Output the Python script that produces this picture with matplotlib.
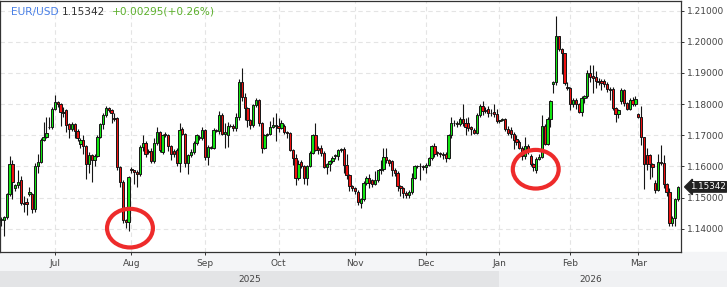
import numpy as np
import pandas as pd
import matplotlib
matplotlib.use("Agg")
import matplotlib.pyplot as plt
from matplotlib.patches import Ellipse
from matplotlib.transforms import blended_transform_factory

# daily EUR/USD candles (Jun 2025 - Mar 2026)
opens = [
    1.1428, 1.1427, 1.1438, 1.1511, 1.1607, 1.1530, 1.1540, 1.1555, 1.1482, 1.1485,
    1.1510, 1.1511, 1.1462, 1.1600, 1.1614, 1.1685, 1.1694, 1.1728, 1.1726, 1.1785,
    1.1806, 1.1801, 1.1772, 1.1780, 1.1737, 1.1721, 1.1737, 1.1715, 1.1672, 1.1684,
    1.1665, 1.1609, 1.1637, 1.1622, 1.1632, 1.1694, 1.1735, 1.1765, 1.1788, 1.1780,
    1.1755, 1.1754, 1.1598, 1.1550, 1.1427, 1.1422, 1.1593, 1.1587, 1.1582, 1.1577,
    1.1662, 1.1675, 1.1649, 1.1649, 1.1617, 1.1675, 1.1710, 1.1646, 1.1705, 1.1700,
    1.1667, 1.1649, 1.1652, 1.1612, 1.1721, 1.1705, 1.1612, 1.1636, 1.1646, 1.1675,
    1.1695, 1.1690, 1.1716, 1.1630, 1.1662, 1.1659, 1.1716, 1.1713, 1.1766, 1.1705,
    1.1700, 1.1729, 1.1731, 1.1724, 1.1760, 1.1870, 1.1822, 1.1788, 1.1748, 1.1734,
    1.1798, 1.1814, 1.1739, 1.1659, 1.1702, 1.1705, 1.1726, 1.1734, 1.1729, 1.1723,
    1.1729, 1.1712, 1.1707, 1.1652, 1.1628, 1.1564, 1.1613, 1.1601, 1.1564, 1.1601,
    1.1644, 1.1700, 1.1660, 1.1659, 1.1643, 1.1598, 1.1607, 1.1617, 1.1632, 1.1634,
    1.1652, 1.1657, 1.1604, 1.1572, 1.1537, 1.1531, 1.1519, 1.1484, 1.1495, 1.1548,
    1.1562, 1.1557, 1.1543, 1.1556, 1.1588, 1.1591, 1.1629, 1.1620, 1.1617, 1.1590,
    1.1579, 1.1538, 1.1532, 1.1516, 1.1508, 1.1518, 1.1564, 1.1601, 1.1600, 1.1601,
    1.1597, 1.1604, 1.1626, 1.1665, 1.1645, 1.1643, 1.1641, 1.1641, 1.1628, 1.1702,
    1.1740, 1.1738, 1.1735, 1.1753, 1.1740, 1.1740, 1.1726, 1.1718, 1.1708, 1.1764,
    1.1794, 1.1780, 1.1783, 1.1772, 1.1773, 1.1769, 1.1745, 1.1748, 1.1752, 1.1721,
    1.1716, 1.1705, 1.1687, 1.1678, 1.1660, 1.1634, 1.1666, 1.1634, 1.1609, 1.1588,
    1.1625, 1.1631, 1.1729, 1.1673, 1.1753, 1.1863, 1.1870, 1.2018, 1.1977, 1.1963,
    1.1855, 1.1850, 1.1800, 1.1814, 1.1801, 1.1775, 1.1820, 1.1825, 1.1900, 1.1890,
    1.1887, 1.1873, 1.1875, 1.1875, 1.1865, 1.1849, 1.1849, 1.1787, 1.1767, 1.1809,
    1.1844, 1.1803, 1.1785, 1.1814, 1.1801, 1.1767, 1.1759, 1.1693, 1.1636, 1.1636,
    1.1607, 1.1548, 1.1523, 1.1614, 1.1612, 1.1543, 1.1518, 1.1418, 1.1436, 1.1497,
]
highs = [
    1.1437, 1.1440, 1.1514, 1.1633, 1.1622, 1.1545, 1.1590, 1.1570, 1.1505, 1.1500,
    1.1535, 1.1515, 1.1610, 1.1641, 1.1690, 1.1742, 1.1760, 1.1760, 1.1790, 1.1830,
    1.1810, 1.1805, 1.1790, 1.1785, 1.1740, 1.1742, 1.1740, 1.1720, 1.1690, 1.1700,
    1.1670, 1.1645, 1.1640, 1.1640, 1.1700, 1.1740, 1.1770, 1.1795, 1.1790, 1.1785,
    1.1770, 1.1760, 1.1600, 1.1555, 1.1430, 1.1570, 1.1598, 1.1590, 1.1590, 1.1670,
    1.1700, 1.1680, 1.1655, 1.1660, 1.1690, 1.1725, 1.1715, 1.1705, 1.1710, 1.1705,
    1.1670, 1.1655, 1.1658, 1.1740, 1.1725, 1.1708, 1.1640, 1.1655, 1.1680, 1.1705,
    1.1700, 1.1725, 1.1720, 1.1668, 1.1665, 1.1722, 1.1720, 1.1778, 1.1770, 1.1740,
    1.1743, 1.1735, 1.1735, 1.1770, 1.1880, 1.1916, 1.1835, 1.1790, 1.1752, 1.1800,
    1.1818, 1.1816, 1.1742, 1.1705, 1.1708, 1.1745, 1.1760, 1.1770, 1.1755, 1.1750,
    1.1735, 1.1715, 1.1710, 1.1655, 1.1640, 1.1622, 1.1620, 1.1603, 1.1605, 1.1650,
    1.1705, 1.1740, 1.1665, 1.1670, 1.1648, 1.1612, 1.1620, 1.1632, 1.1640, 1.1655,
    1.1660, 1.1662, 1.1640, 1.1575, 1.1540, 1.1535, 1.1525, 1.1500, 1.1552, 1.1570,
    1.1575, 1.1560, 1.1585, 1.1590, 1.1620, 1.1660, 1.1660, 1.1625, 1.1622, 1.1595,
    1.1585, 1.1540, 1.1535, 1.1520, 1.1525, 1.1580, 1.1605, 1.1605, 1.1610, 1.1605,
    1.1610, 1.1630, 1.1670, 1.1675, 1.1650, 1.1645, 1.1645, 1.1645, 1.1705, 1.1760,
    1.1750, 1.1745, 1.1758, 1.1800, 1.1755, 1.1760, 1.1730, 1.1722, 1.1770, 1.1800,
    1.1810, 1.1790, 1.1795, 1.1785, 1.1800, 1.1785, 1.1750, 1.1755, 1.1755, 1.1730,
    1.1725, 1.1710, 1.1700, 1.1685, 1.1665, 1.1695, 1.1672, 1.1640, 1.1612, 1.1630,
    1.1640, 1.1765, 1.1735, 1.1758, 1.1812, 1.1875, 1.2081, 1.2020, 1.1980, 1.1965,
    1.1870, 1.1855, 1.1820, 1.1818, 1.1805, 1.1825, 1.1828, 1.1910, 1.1925, 1.1925,
    1.1905, 1.1885, 1.1880, 1.1880, 1.1870, 1.1855, 1.1855, 1.1790, 1.1785, 1.1850,
    1.1848, 1.1808, 1.1818, 1.1822, 1.1825, 1.1770, 1.1795, 1.1695, 1.1660, 1.1640,
    1.1610, 1.1555, 1.1640, 1.1668, 1.1638, 1.1548, 1.1530, 1.1440, 1.1500, 1.1536,
]
lows = [
    1.1410, 1.1376, 1.1430, 1.1505, 1.1495, 1.1520, 1.1530, 1.1475, 1.1455, 1.1444,
    1.1505, 1.1452, 1.1455, 1.1580, 1.1610, 1.1680, 1.1690, 1.1720, 1.1720, 1.1780,
    1.1790, 1.1730, 1.1760, 1.1710, 1.1690, 1.1715, 1.1690, 1.1680, 1.1660, 1.1640,
    1.1561, 1.1580, 1.1550, 1.1600, 1.1630, 1.1690, 1.1720, 1.1760, 1.1775, 1.1740,
    1.1745, 1.1590, 1.1535, 1.1420, 1.1401, 1.1392, 1.1580, 1.1545, 1.1535, 1.1570,
    1.1650, 1.1630, 1.1640, 1.1610, 1.1612, 1.1670, 1.1645, 1.1640, 1.1695, 1.1650,
    1.1620, 1.1630, 1.1600, 1.1582, 1.1700, 1.1598, 1.1577, 1.1630, 1.1640, 1.1670,
    1.1685, 1.1685, 1.1620, 1.1605, 1.1655, 1.1655, 1.1710, 1.1705, 1.1700, 1.1660,
    1.1663, 1.1725, 1.1715, 1.1715, 1.1750, 1.1810, 1.1748, 1.1726, 1.1720, 1.1725,
    1.1790, 1.1730, 1.1643, 1.1655, 1.1698, 1.1700, 1.1722, 1.1683, 1.1710, 1.1720,
    1.1705, 1.1690, 1.1650, 1.1605, 1.1540, 1.1555, 1.1595, 1.1545, 1.1540, 1.1598,
    1.1640, 1.1648, 1.1640, 1.1635, 1.1595, 1.1575, 1.1585, 1.1610, 1.1625, 1.1620,
    1.1645, 1.1580, 1.1560, 1.1520, 1.1520, 1.1510, 1.1475, 1.1465, 1.1490, 1.1540,
    1.1530, 1.1535, 1.1540, 1.1550, 1.1575, 1.1585, 1.1610, 1.1600, 1.1570, 1.1570,
    1.1520, 1.1505, 1.1500, 1.1500, 1.1500, 1.1510, 1.1560, 1.1595, 1.1555, 1.1590,
    1.1580, 1.1600, 1.1620, 1.1630, 1.1635, 1.1630, 1.1625, 1.1615, 1.1625, 1.1690,
    1.1730, 1.1725, 1.1730, 1.1730, 1.1700, 1.1715, 1.1700, 1.1705, 1.1705, 1.1760,
    1.1765, 1.1770, 1.1760, 1.1762, 1.1760, 1.1740, 1.1740, 1.1745, 1.1715, 1.1700,
    1.1690, 1.1655, 1.1670, 1.1655, 1.1620, 1.1625, 1.1640, 1.1600, 1.1585, 1.1578,
    1.1620, 1.1628, 1.1670, 1.1670, 1.1725, 1.1834, 1.1860, 1.1970, 1.1897, 1.1860,
    1.1845, 1.1780, 1.1790, 1.1785, 1.1770, 1.1763, 1.1805, 1.1820, 1.1870, 1.1835,
    1.1850, 1.1860, 1.1845, 1.1855, 1.1840, 1.1812, 1.1780, 1.1742, 1.1755, 1.1800,
    1.1795, 1.1780, 1.1780, 1.1795, 1.1795, 1.1755, 1.1670, 1.1528, 1.1590, 1.1560,
    1.1565, 1.1515, 1.1520, 1.1605, 1.1530, 1.1505, 1.1410, 1.1410, 1.1410, 1.1490,
]
closes = [
    1.1432, 1.1438, 1.1511, 1.1609, 1.1551, 1.1540, 1.1551, 1.1482, 1.1478, 1.1478,
    1.1518, 1.1462, 1.1600, 1.1614, 1.1685, 1.1694, 1.1706, 1.1725, 1.1785, 1.1806,
    1.1801, 1.1776, 1.1776, 1.1734, 1.1721, 1.1737, 1.1715, 1.1690, 1.1684, 1.1665,
    1.1609, 1.1637, 1.1622, 1.1632, 1.1694, 1.1735, 1.1765, 1.1788, 1.1780, 1.1770,
    1.1752, 1.1598, 1.1550, 1.1427, 1.1422, 1.1566, 1.1587, 1.1582, 1.1577, 1.1662,
    1.1675, 1.1641, 1.1645, 1.1617, 1.1675, 1.1710, 1.1652, 1.1700, 1.1700, 1.1667,
    1.1641, 1.1641, 1.1612, 1.1718, 1.1705, 1.1612, 1.1636, 1.1646, 1.1675, 1.1700,
    1.1690, 1.1716, 1.1630, 1.1662, 1.1659, 1.1718, 1.1713, 1.1766, 1.1705, 1.1710,
    1.1729, 1.1731, 1.1724, 1.1760, 1.1870, 1.1822, 1.1788, 1.1748, 1.1734, 1.1798,
    1.1814, 1.1739, 1.1659, 1.1702, 1.1705, 1.1726, 1.1734, 1.1729, 1.1723, 1.1739,
    1.1712, 1.1707, 1.1652, 1.1628, 1.1564, 1.1609, 1.1601, 1.1564, 1.1601, 1.1644,
    1.1700, 1.1652, 1.1652, 1.1643, 1.1598, 1.1607, 1.1617, 1.1627, 1.1636, 1.1652,
    1.1657, 1.1604, 1.1572, 1.1537, 1.1531, 1.1521, 1.1486, 1.1495, 1.1548, 1.1564,
    1.1546, 1.1543, 1.1556, 1.1588, 1.1591, 1.1629, 1.1620, 1.1611, 1.1588, 1.1579,
    1.1538, 1.1532, 1.1516, 1.1508, 1.1518, 1.1564, 1.1601, 1.1600, 1.1601, 1.1597,
    1.1604, 1.1626, 1.1665, 1.1641, 1.1643, 1.1641, 1.1638, 1.1628, 1.1702, 1.1740,
    1.1738, 1.1735, 1.1753, 1.1740, 1.1727, 1.1723, 1.1720, 1.1708, 1.1764, 1.1794,
    1.1778, 1.1778, 1.1772, 1.1770, 1.1767, 1.1745, 1.1748, 1.1752, 1.1721, 1.1707,
    1.1705, 1.1686, 1.1677, 1.1660, 1.1634, 1.1666, 1.1652, 1.1607, 1.1599, 1.1625,
    1.1631, 1.1729, 1.1673, 1.1753, 1.1810, 1.1870, 1.2018, 1.1977, 1.1965, 1.1868,
    1.1850, 1.1800, 1.1814, 1.1801, 1.1775, 1.1820, 1.1825, 1.1900, 1.1887, 1.1885,
    1.1873, 1.1870, 1.1868, 1.1863, 1.1847, 1.1846, 1.1787, 1.1767, 1.1780, 1.1844,
    1.1803, 1.1785, 1.1814, 1.1801, 1.1817, 1.1759, 1.1693, 1.1609, 1.1609, 1.1607,
    1.1599, 1.1523, 1.1614, 1.1612, 1.1543, 1.1518, 1.1417, 1.1436, 1.1497, 1.1534,
]

symbol = "EUR/USD"
last_price = 1.15342
change = 0.00295
change_pct = 0.26
price_ticks = [1.14, 1.15, 1.16, 1.17, 1.18, 1.19, 1.20, 1.21]

# spots circled by hand on the original screenshot: (candle, price)
marked_spots = [(45.5, 1.1402), (188.8, 1.1591)]

W, H = 727, 287
PLOT_RIGHT = 681      # px
PLOT_BOTTOM = 251.7   # px
YEAR_TOP = 271        # px


def plot_candles(save_path="out.png"):
    o, h, l, c = (np.array(v) for v in (opens, highs, lows, closes))
    n = len(c)
    x = np.arange(n)

    # one candle per day, Sunday to Friday, no Christmas / New Year session
    days = pd.date_range("2025-06-09", "2026-04-30", freq="D")
    days = days[(days.dayofweek != 5) & ~days.strftime("%m-%d").isin(["12-25", "01-01"])]
    dates = days[:n]

    fig = plt.figure(figsize=(W / 100, H / 100), dpi=100)
    fig.patch.set_facecolor("white")

    # month strip under the plot
    fig.add_artist(plt.Rectangle((0, (H - YEAR_TOP) / H), 1, (YEAR_TOP - PLOT_BOTTOM) / H,
                                 transform=fig.transFigure, color="#f4f5f7", zorder=0))

    ax = fig.add_axes([0, (H - PLOT_BOTTOM) / H, PLOT_RIGHT / W, (PLOT_BOTTOM - 0.6) / H])
    ax.set_facecolor("white")

    up = c >= o
    ax.vlines(x, l, h, color="#151515", linewidth=0.8, zorder=2)
    ax.bar(x, np.maximum(np.abs(c - o), 0.00004), bottom=np.minimum(o, c), width=0.8,
           color=np.where(up, "#12e512", "#ee1111"), edgecolor="#151515",
           linewidth=0.7, zorder=3)

    xlim = (-0.4, n - 1 + 1.1)
    ax.set_xlim(*xlim)
    ax.set_ylim(1.13264, 1.2132)

    # month ticks at the first candle of each month
    month_idx = [i for i in range(1, n) if dates[i].month != dates[i - 1].month]
    ax.set_xticks(month_idx)
    ax.set_xticklabels([dates[i].strftime("%b") for i in month_idx])
    ax.set_yticks(price_ticks)
    ax.set_yticklabels([f"{p:.5f}" for p in price_ticks])

    ax.yaxis.tick_right()
    ax.tick_params(axis="both", direction="out", length=2.5, width=0.7, color="#333333",
                   labelsize=6.5, labelcolor="#444444")
    ax.tick_params(axis="y", pad=1.5)
    ax.tick_params(axis="x", pad=2.5)
    ax.grid(True, color="#e4e4e4", linestyle=(0, (4, 3)), linewidth=0.8, zorder=0)
    ax.set_axisbelow(True)
    for sp in ax.spines.values():
        sp.set_color("#333333")
        sp.set_linewidth(0.9)

    # last price tag on the right axis
    tr = blended_transform_factory(ax.transAxes, ax.transData)
    ax.text(1.0 + 9 / PLOT_RIGHT, last_price, f"{last_price:.5f}", transform=tr,
            ha="left", va="center", fontsize=6.3, color="white", zorder=5, clip_on=False,
            bbox=dict(boxstyle="larrow,pad=0.08", fc="#222222", ec="#222222"))

    # red hand-drawn rings
    for cx, cy in marked_spots:
        ax.add_patch(Ellipse((cx, cy), width=16.2, height=0.0124, fill=False,
                             edgecolor="#ee2b2b", linewidth=3.0, zorder=6, clip_on=False))

    # year strip, same scale as the candles
    span = (xlim[1] - xlim[0]) * W / PLOT_RIGHT
    ay = fig.add_axes([0, 0, 1, (H - YEAR_TOP) / H])
    ay.set_xlim(xlim[0], xlim[0] + span)
    ay.set_ylim(0, 1)
    ay.axis("off")
    jan = [i for i in month_idx if dates[i].month == 1][0]
    ay.axvspan(xlim[0], jan, color="#e3e4e6", lw=0)
    ay.axvspan(jan, xlim[0] + span, color="#f0f1f3", lw=0)
    ay.text((xlim[0] + jan) / 2, 0.45, str(dates[0].year), ha="center", va="center",
            fontsize=6.5, color="#444444")
    ay.text((jan + xlim[1]) / 2, 0.45, str(dates[jan].year), ha="center", va="center",
            fontsize=6.5, color="#444444")

    # header: symbol, last price, change
    ty = 1 - 12 / H
    fig.text(11 / W, ty, symbol, fontsize=7.6, color="#4a80e6", va="center")
    fig.text(62 / W, ty, f"{last_price:.5f}", fontsize=7.6, color="#333333", va="center")
    fig.text(112 / W, ty, f"+{change:.5f}(+{change_pct:.2f}%)", fontsize=7.6,
             color="#5cb02c", va="center")

    fig.savefig(save_path, dpi=100)


plot_candles()
